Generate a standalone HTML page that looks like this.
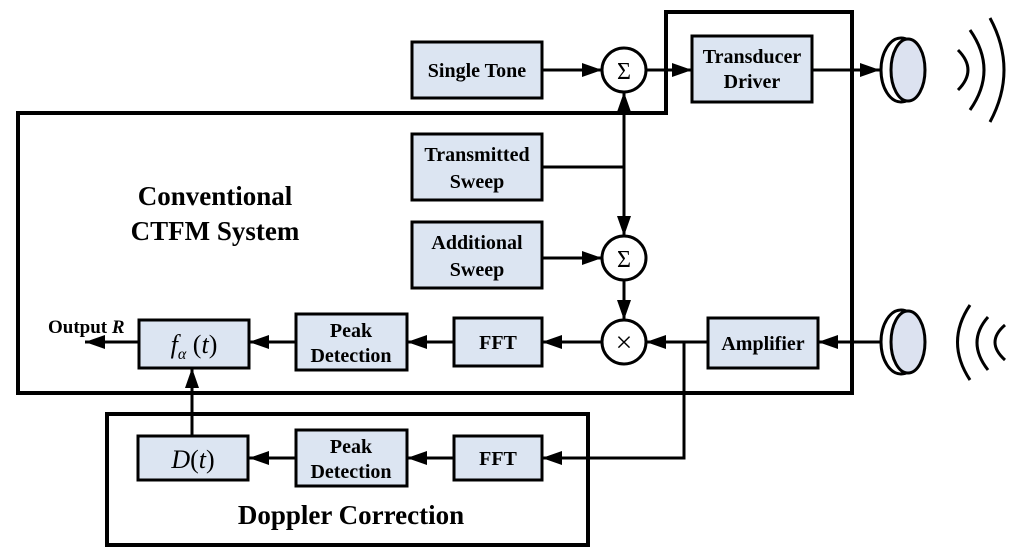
<!DOCTYPE html>
<html><head><meta charset="utf-8"><style>
body{margin:0;background:#fff}
svg{display:block}
text{font-family:"Liberation Serif",serif;font-weight:bold;fill:#000}
text.m{font-weight:normal}
.b{fill:#dce5f2;stroke:#000;stroke-width:3}
.l{stroke:#000;stroke-width:3;fill:none}
.c{fill:#fff;stroke:#000;stroke-width:3}
</style></head><body>
<svg width="1024" height="560" viewBox="0 0 1024 560" xmlns="http://www.w3.org/2000/svg">
<defs>
<marker id="ar" viewBox="0 0 20 14" markerWidth="20" markerHeight="14" refX="20" refY="7" orient="auto" markerUnits="userSpaceOnUse"><path d="M0,0 L20,7 L0,14z"/></marker></defs>
<path d="M18,113 H666 V12 H852 V393 H18 Z" fill="none" stroke="#000" stroke-width="4"/>
<rect x="107" y="414" width="481" height="131" fill="none" stroke="#000" stroke-width="4"/>
<text x="215" y="205" font-size="27" text-anchor="middle">Conventional</text>
<text x="215" y="240" font-size="27" text-anchor="middle">CTFM System</text>
<text x="351" y="524" font-size="27" text-anchor="middle">Doppler Correction</text>
<line class="l" x1="542" y1="70" x2="602" y2="70" marker-end="url(#ar)"/>
<line class="l" x1="646" y1="70" x2="692" y2="70" marker-end="url(#ar)"/>
<line class="l" x1="812" y1="70" x2="880" y2="70" marker-end="url(#ar)"/>
<line class="l" x1="542" y1="167" x2="624" y2="167"/>
<line class="l" x1="624" y1="167" x2="624" y2="92" marker-end="url(#ar)"/>
<line class="l" x1="624" y1="167" x2="624" y2="236" marker-end="url(#ar)"/>
<line class="l" x1="542" y1="258" x2="602" y2="258" marker-end="url(#ar)"/>
<line class="l" x1="624" y1="280" x2="624" y2="320" marker-end="url(#ar)"/>
<line class="l" x1="880" y1="342" x2="818" y2="342" marker-end="url(#ar)"/>
<line class="l" x1="708" y1="342" x2="646" y2="342" marker-end="url(#ar)"/>
<polyline class="l" points="684,342 684,458 542,458" marker-end="url(#ar)"/>
<line class="l" x1="602" y1="342" x2="542" y2="342" marker-end="url(#ar)"/>
<line class="l" x1="454" y1="342" x2="407" y2="342" marker-end="url(#ar)"/>
<line class="l" x1="296" y1="342" x2="249" y2="342" marker-end="url(#ar)"/>
<line class="l" x1="139" y1="342" x2="85" y2="342" marker-end="url(#ar)"/>
<line class="l" x1="192" y1="436" x2="192" y2="368" marker-end="url(#ar)"/>
<line class="l" x1="454" y1="458" x2="407" y2="458" marker-end="url(#ar)"/>
<line class="l" x1="296" y1="458" x2="249" y2="458" marker-end="url(#ar)"/>
<rect class="b" x="412" y="42" width="130" height="56"/><text x="477" y="77" font-size="20" text-anchor="middle">Single Tone</text>
<rect class="b" x="692" y="36" width="120" height="66"/><text x="752" y="63" font-size="20" text-anchor="middle">Transducer</text><text x="752" y="88" font-size="20" text-anchor="middle">Driver</text>
<rect class="b" x="412" y="134" width="130" height="66"/><text x="477" y="161" font-size="20" text-anchor="middle">Transmitted</text><text x="477" y="188" font-size="20" text-anchor="middle">Sweep</text>
<rect class="b" x="412" y="222" width="130" height="66"/><text x="477" y="249" font-size="20" text-anchor="middle">Additional</text><text x="477" y="276" font-size="20" text-anchor="middle">Sweep</text>
<rect class="b" x="708" y="318" width="110" height="50"/><text x="763" y="350" font-size="20" text-anchor="middle">Amplifier</text>
<rect class="b" x="454" y="318" width="88" height="48"/><text x="498" y="349" font-size="20" text-anchor="middle">FFT</text>
<rect class="b" x="296" y="314" width="111" height="56"/><text x="351" y="337" font-size="20" text-anchor="middle">Peak</text><text x="351" y="362" font-size="20" text-anchor="middle">Detection</text>
<rect class="b" x="139" y="320" width="110" height="48"/><text class="m" x="194" y="353" font-size="26" font-style="italic" text-anchor="middle">f<tspan font-size="16" dy="6">α</tspan><tspan dy="-6" font-style="normal"> (</tspan>t<tspan font-style="normal">)</tspan></text>
<text x="48" y="333" font-size="19">Output <tspan font-style="italic">R</tspan></text>
<rect class="b" x="138" y="436" width="110" height="44"/><text class="m" x="193" y="468" font-size="26" font-style="italic" text-anchor="middle">D<tspan font-style="normal">(</tspan>t<tspan font-style="normal">)</tspan></text>
<rect class="b" x="296" y="430" width="111" height="56"/><text x="351" y="453" font-size="20" text-anchor="middle">Peak</text><text x="351" y="478" font-size="20" text-anchor="middle">Detection</text>
<rect class="b" x="454" y="436" width="88" height="44"/><text x="498" y="465" font-size="20" text-anchor="middle">FFT</text>
<circle class="c" cx="624" cy="70" r="22"/><text class="m" x="624" y="79" font-size="24" text-anchor="middle">Σ</text>
<circle class="c" cx="624" cy="258" r="22"/><text class="m" x="624" y="267" font-size="24" text-anchor="middle">Σ</text>
<circle class="c" cx="624" cy="342" r="22"/><text class="m" x="624" y="352" font-size="30" text-anchor="middle">×</text>
<ellipse cx="901" cy="70" rx="20" ry="32" fill="#fff" stroke="#000" stroke-width="3"/>
<ellipse cx="908" cy="70" rx="17" ry="31" fill="#dce2f0" stroke="#000" stroke-width="3"/>
<path class="l" d="M958,50 Q978,70 958,90 M970,30 Q998,70 970,110 M990,18 Q1018,70 990,122"/>
<ellipse cx="901" cy="342" rx="20" ry="32" fill="#fff" stroke="#000" stroke-width="3"/>
<ellipse cx="908" cy="342" rx="17" ry="31" fill="#dce2f0" stroke="#000" stroke-width="3"/>
<path class="l" d="M1005,325 Q985,342 1005,360 M988,317 Q966,342 988,370 M970,305 Q945,342 970,380"/>
</svg>
</body></html>
